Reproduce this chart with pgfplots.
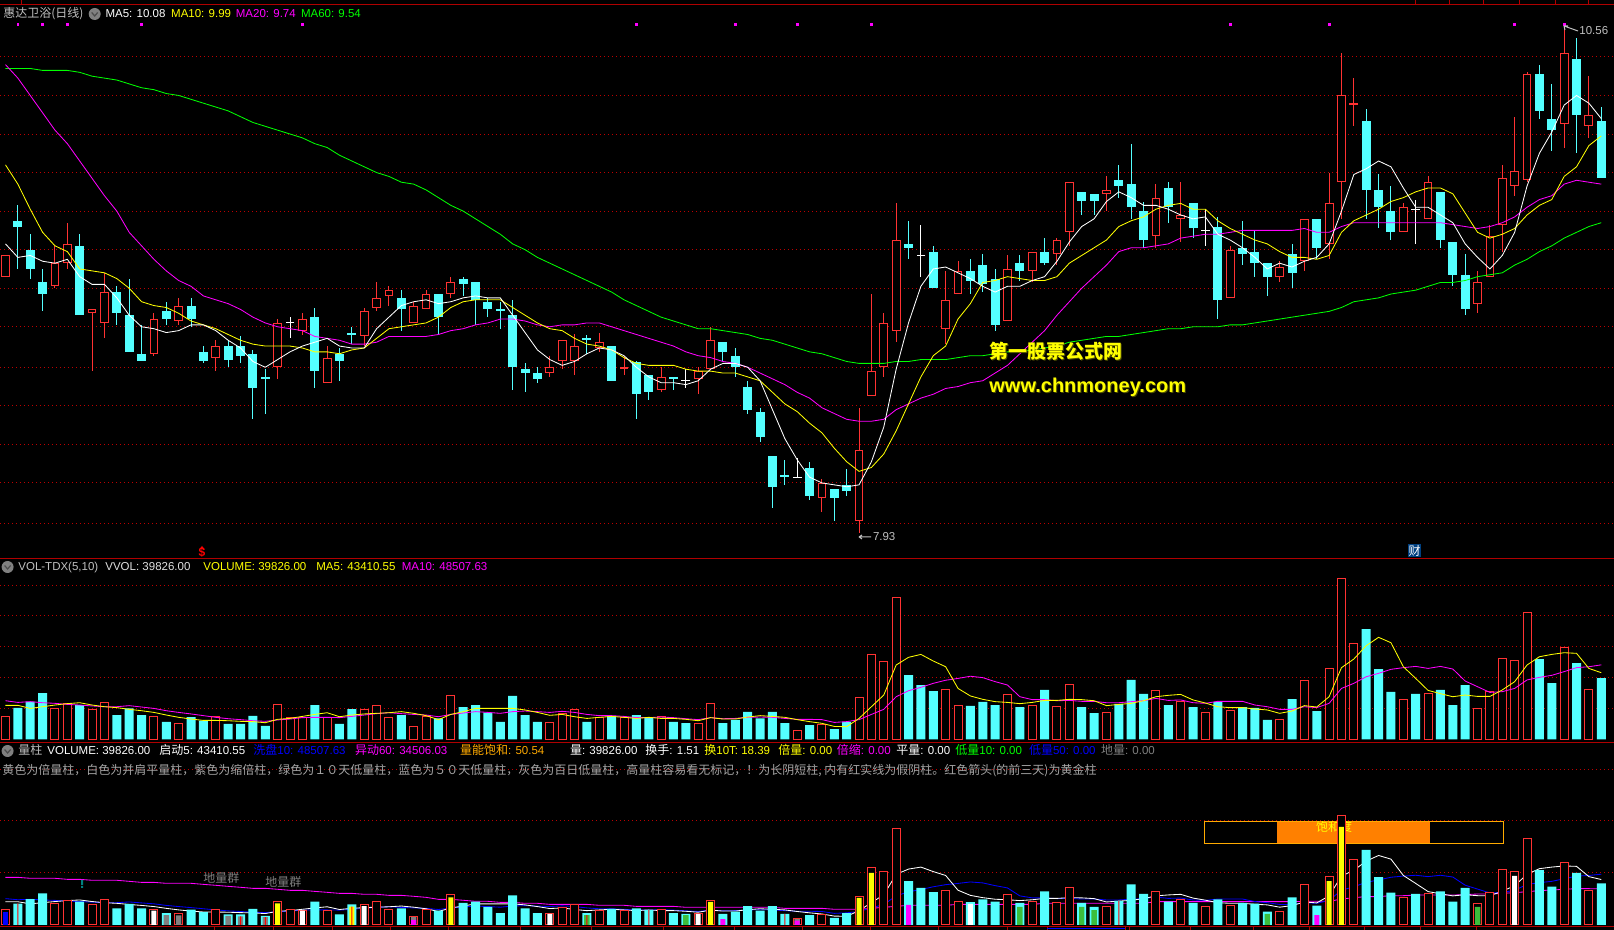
\documentclass[border=0pt]{standalone}
\usepackage{fontspec}
\usepackage{pgfplots}
\usepackage{pgfplotstable}
\pgfplotsset{compat=1.18}
\setmainfont{Liberation Sans}
\newfontfamily\cjk{Noto Sans CJK SC}
\definecolor{magenta}{RGB}{255,0,255}
\definecolor{yellow}{RGB}{255,255,0}
\definecolor{green}{RGB}{0,255,0}
\definecolor{blue}{RGB}{0,0,255}
\definecolor{red}{RGB}{255,0,0}
\definecolor{sepred}{RGB}{176,0,0}
\definecolor{gridred}{RGB}{190,0,0}
\definecolor{upred}{RGB}{255,50,50}
\definecolor{dncyan}{RGB}{84,255,255}
\definecolor{txtgray}{RGB}{192,192,192}
\definecolor{inngreen}{RGB}{60,190,60}
\definecolor{inngray}{RGB}{128,128,128}
\definecolor{barorange}{RGB}{255,128,0}
\definecolor{lineorange}{RGB}{255,170,0}
\definecolor{marknavy}{RGB}{0,64,128}
\definecolor{markteal}{RGB}{0,128,128}
\newcommand\cj[1]{{\fontsize{6}{7}\selectfont\cjk #1}}

% price candles: i open high low close
\pgfplotstableread{
i o h l c
0 9.26 9.37 9.26 9.37
4 9.21 9.42 9.20 9.33
5 9.33 9.54 9.30 9.43
7 9.07 9.09 8.77 9.09
8 9.02 9.28 8.94 9.18
12 8.86 9.07 8.85 9.04
14 9.03 9.15 9.01 9.11
17 8.84 8.93 8.77 8.90
22 8.79 9.04 8.73 9.02
24 8.98 9.07 8.96 9.04
26 8.71 8.90 8.71 8.84
29 8.95 9.10 8.90 9.08
30 9.10 9.23 9.08 9.15
31 9.16 9.21 9.11 9.19
33 9.02 9.13 9.02 9.11
34 9.09 9.19 9.09 9.17
36 9.17 9.26 9.15 9.23
44 8.76 8.85 8.74 8.79
45 8.82 8.93 8.78 8.93
46 8.82 8.96 8.75 8.90
48 8.89 8.97 8.87 8.92
50 8.78 8.85 8.75 8.79
53 8.67 8.79 8.66 8.74
56 8.73 8.79 8.65 8.77
57 8.78 9.00 8.78 8.93
66 8.11 8.21 8.04 8.19
69 7.99 8.58 7.93 8.36
70 8.64 9.17 8.64 8.77
71 8.79 9.07 8.74 9.02
72 8.98 9.64 8.92 9.45
76 8.99 9.29 8.91 9.14
77 9.17 9.34 9.17 9.29
81 9.03 9.37 9.03 9.30
83 9.29 9.39 9.23 9.39
85 9.38 9.46 9.32 9.45
86 9.49 9.75 9.42 9.75
89 9.69 9.78 9.60 9.71
93 9.47 9.74 9.41 9.67
95 9.56 9.75 9.44 9.58
99 9.15 9.42 9.15 9.40
103 9.26 9.34 9.23 9.31
105 9.34 9.56 9.29 9.56
107 9.43 9.80 9.35 9.64
108 9.75 10.42 9.56 10.20
109 10.15 10.29 10.04 10.16
113 9.49 9.64 9.49 9.62
115 9.56 9.78 9.56 9.75
119 9.12 9.29 9.07 9.23
120 9.26 9.53 9.26 9.47
121 9.53 9.84 9.39 9.77
122 9.73 10.09 9.68 9.81
123 9.76 10.32 9.75 10.31
126 10.05 10.56 9.93 10.42
128 10.04 10.30 9.98 10.10
}\upcandles
\pgfplotstableread{
i o h l c
1 9.55 9.63 9.30 9.52
2 9.40 9.48 9.25 9.30
3 9.23 9.30 9.08 9.17
6 9.42 9.48 9.06 9.06
9 9.18 9.21 9.01 9.07
10 9.06 9.25 8.87 8.87
11 8.86 9.01 8.82 8.82
13 9.08 9.13 9.01 9.04
15 9.11 9.15 9.00 9.04
16 8.87 8.90 8.81 8.82
18 8.90 8.93 8.79 8.83
19 8.90 8.95 8.81 8.85
20 8.86 8.88 8.52 8.68
21 8.74 8.78 8.55 8.73
25 9.05 9.10 8.68 8.77
27 8.86 8.89 8.72 8.82
28 8.97 9.00 8.91 8.96
32 9.15 9.19 8.98 9.09
35 9.17 9.17 8.96 9.05
37 9.25 9.26 9.16 9.22
38 9.23 9.23 9.01 9.14
39 9.13 9.15 9.05 9.09
40 9.09 9.13 8.99 9.08
41 9.06 9.14 8.67 8.79
42 8.78 8.81 8.66 8.76
43 8.76 8.79 8.71 8.73
47 8.94 8.96 8.86 8.93
49 8.90 8.90 8.72 8.72
51 8.82 8.82 8.52 8.65
52 8.75 8.75 8.62 8.66
54 8.74 8.74 8.67 8.73
58 8.92 8.92 8.82 8.87
59 8.85 8.89 8.74 8.79
60 8.69 8.72 8.55 8.57
61 8.56 8.58 8.40 8.43
62 8.33 8.33 8.06 8.17
63 8.23 8.31 8.18 8.22
65 8.27 8.30 8.10 8.12
67 8.16 8.16 7.99 8.11
68 8.18 8.26 8.12 8.15
73 9.43 9.55 9.35 9.41
75 9.39 9.42 9.20 9.20
78 9.29 9.35 9.17 9.24
79 9.32 9.38 9.18 9.22
80 9.25 9.30 8.98 9.01
82 9.33 9.37 9.24 9.29
84 9.39 9.46 9.32 9.33
87 9.70 9.70 9.58 9.65
88 9.69 9.69 9.58 9.65
90 9.76 9.84 9.67 9.73
91 9.74 9.95 9.56 9.62
92 9.60 9.65 9.41 9.45
94 9.72 9.75 9.54 9.62
96 9.64 9.64 9.46 9.51
98 9.52 9.57 9.04 9.14
100 9.41 9.55 9.32 9.38
101 9.39 9.50 9.26 9.33
102 9.33 9.33 9.16 9.26
104 9.38 9.43 9.20 9.28
106 9.56 9.56 9.35 9.41
110 10.07 10.13 9.56 9.71
111 9.71 9.79 9.51 9.62
112 9.60 9.73 9.45 9.49
116 9.70 9.70 9.41 9.45
117 9.44 9.44 9.21 9.27
118 9.27 9.38 9.06 9.09
124 10.31 10.36 10.08 10.12
125 10.08 10.26 9.91 10.02
127 10.39 10.50 9.90 10.10
129 10.07 10.14 9.77 9.77
}\dncandles
\pgfplotstableread{
i o h l c
23 9.02 9.05 8.94 9.02
55 8.72 8.78 8.68 8.72
64 8.22 8.32 8.22 8.22
74 9.37 9.53 9.26 9.37
97 9.50 9.61 9.42 9.50
114 9.61 9.66 9.43 9.61
}\dojis
% price moving averages
\pgfplotstableread{
i ma5 ma10 ma20 ma60
0 9.43 9.84 10.36 10.34
1 9.36 9.74 10.29 10.34
2 9.37 9.61 10.20 10.34
3 9.34 9.49 10.11 10.33
4 9.33 9.42 10.02 10.33
5 9.35 9.39 9.95 10.33
6 9.26 9.30 9.86 10.32
7 9.22 9.29 9.77 10.30
8 9.22 9.28 9.68 10.29
9 9.15 9.25 9.60 10.28
10 9.06 9.20 9.49 10.26
11 9.00 9.13 9.42 10.24
12 8.99 9.11 9.35 10.23
13 8.97 9.10 9.29 10.21
14 8.98 9.07 9.24 10.20
15 9.01 9.03 9.21 10.18
16 9.01 9.01 9.16 10.16
17 8.98 8.99 9.14 10.14
18 8.93 8.96 9.12 10.12
19 8.89 8.93 9.09 10.09
20 8.82 8.91 9.05 10.06
21 8.79 8.90 9.02 10.04
22 8.83 8.90 9.00 10.02
23 8.87 8.90 8.99 10.00
24 8.90 8.89 8.98 9.98
25 8.92 8.87 8.95 9.95
26 8.94 8.87 8.94 9.93
27 8.90 8.86 8.93 9.89
28 8.89 8.88 8.91 9.86
29 8.89 8.89 8.91 9.83
30 8.99 8.94 8.92 9.80
31 9.05 8.99 8.95 9.78
32 9.11 9.00 8.95 9.75
33 9.13 9.01 8.95 9.74
34 9.14 9.02 8.95 9.71
35 9.12 9.05 8.96 9.67
36 9.13 9.10 8.98 9.63
37 9.15 9.13 8.99 9.60
38 9.16 9.14 9.01 9.56
39 9.15 9.14 9.02 9.52
40 9.15 9.14 9.04 9.48
41 9.06 9.10 9.04 9.43
42 8.97 9.06 9.03 9.40
43 8.88 9.02 9.01 9.36
44 8.83 8.99 9.00 9.33
45 8.80 8.98 9.01 9.30
46 8.82 8.94 9.01 9.27
47 8.86 8.91 9.02 9.24
48 8.89 8.90 9.02 9.21
49 8.88 8.88 9.00 9.18
50 8.85 8.84 8.98 9.14
51 8.79 8.81 8.96 9.11
52 8.74 8.80 8.94 9.08
53 8.71 8.80 8.92 9.05
54 8.71 8.80 8.90 9.03
55 8.70 8.78 8.87 9.01
56 8.72 8.77 8.85 8.99
57 8.78 8.77 8.84 8.99
58 8.81 8.76 8.82 8.98
59 8.81 8.76 8.81 8.97
60 8.79 8.74 8.79 8.96
61 8.72 8.72 8.76 8.94
62 8.57 8.66 8.73 8.93
63 8.42 8.60 8.70 8.91
64 8.31 8.56 8.66 8.89
65 8.22 8.50 8.63 8.87
66 8.19 8.45 8.58 8.86
67 8.18 8.37 8.55 8.84
68 8.17 8.30 8.52 8.82
69 8.18 8.25 8.51 8.81
70 8.30 8.27 8.51 8.81
71 8.48 8.34 8.52 8.81
72 8.78 8.46 8.57 8.82
73 9.02 8.60 8.60 8.82
74 9.21 8.74 8.63 8.83
75 9.30 8.85 8.65 8.83
76 9.31 8.90 8.68 8.83
77 9.28 9.04 8.69 8.84
78 9.25 9.12 8.71 8.85
79 9.21 9.23 8.72 8.85
80 9.18 9.24 8.76 8.86
81 9.21 9.26 8.80 8.87
82 9.21 9.25 8.86 8.87
83 9.24 9.24 8.92 8.88
84 9.26 9.24 8.98 8.89
85 9.34 9.26 9.06 8.90
86 9.44 9.33 9.13 8.92
87 9.52 9.37 9.20 8.93
88 9.56 9.41 9.26 8.94
89 9.65 9.45 9.32 8.95
90 9.70 9.52 9.39 8.95
91 9.67 9.55 9.41 8.96
92 9.63 9.57 9.41 8.97
93 9.63 9.61 9.42 8.98
94 9.61 9.63 9.43 8.99
95 9.58 9.64 9.46 8.99
96 9.56 9.61 9.47 9.00
97 9.57 9.61 9.48 9.00
98 9.48 9.55 9.48 9.00
99 9.45 9.51 9.49 9.01
100 9.41 9.48 9.50 9.01
101 9.36 9.45 9.50 9.02
102 9.30 9.43 9.50 9.03
103 9.33 9.39 9.50 9.04
104 9.31 9.36 9.50 9.05
105 9.34 9.36 9.51 9.06
106 9.36 9.35 9.49 9.07
107 9.43 9.37 9.49 9.08
108 9.60 9.49 9.52 9.10
109 9.79 9.55 9.54 9.13
110 9.82 9.58 9.54 9.14
111 9.86 9.61 9.54 9.15
112 9.83 9.65 9.54 9.17
113 9.72 9.67 9.54 9.18
114 9.62 9.70 9.54 9.19
115 9.62 9.72 9.54 9.21
116 9.58 9.72 9.54 9.23
117 9.54 9.69 9.53 9.23
118 9.43 9.59 9.52 9.24
119 9.36 9.49 9.51 9.26
120 9.30 9.46 9.52 9.27
121 9.37 9.48 9.54 9.28
122 9.49 9.51 9.57 9.32
123 9.73 9.58 9.62 9.35
124 9.90 9.63 9.66 9.39
125 10.01 9.66 9.68 9.42
126 10.15 9.78 9.74 9.46
127 10.20 9.83 9.76 9.49
128 10.16 9.94 9.75 9.52
129 10.08 9.99 9.74 9.54
}\priceavg
% volume bars
\pgfplotstableread{
i v
0 15000
4 20200
5 23100
7 19800
8 24100
12 15000
14 10500
17 14800
22 22800
23 14400
24 14200
26 14000
29 19600
30 22200
31 14400
33 8500
34 15000
36 28700
44 11100
45 17000
46 19600
48 14000
50 14000
53 14800
56 10500
57 23500
64 5900
66 9800
69 27400
70 55300
71 50800
72 92400
76 32600
77 22200
81 29300
83 22200
85 21500
86 35800
89 17600
93 31900
95 24400
97 17600
99 18900
103 13100
105 38400
107 46200
108 104800
109 62500
113 26100
115 30000
119 20200
120 30900
121 52700
122 51400
123 82700
126 59900
128 32600
}\volup
\pgfplotstableread{
i v
1 20500
2 24600
3 30200
6 22400
9 15900
10 20200
11 15900
13 11400
15 14600
16 12200
18 10100
19 10100
20 15300
21 8800
25 22400
27 10100
28 19800
32 15900
35 13700
37 21100
38 22400
39 17400
40 11400
41 28300
42 15900
43 11400
47 11400
49 15300
51 15900
52 14200
54 11400
55 10700
58 10700
59 12700
60 17900
61 13700
62 17900
63 10700
65 9400
67 6800
68 11400
73 41900
74 35400
75 31500
78 21800
79 24400
80 22400
82 21100
84 32200
87 21100
88 17200
90 23100
91 38700
92 29600
94 22400
96 21100
98 24400
100 21100
101 20500
102 12700
104 26300
106 18500
110 71800
111 45800
112 30900
114 29600
116 32200
117 22400
118 35400
124 52300
125 36700
127 49700
129 39826
}\voldn
% volume moving averages
\pgfplotstableread{
i ma5 ma10 ma60
0 22200 25200 45500
1 22200 24100 45500
2 20200 24600 44600
3 21300 23900 44600
4 22400 23500 44600
5 23300 22800 43600
6 23900 22400 43600
7 22400 21800 42700
8 21300 21300 42700
9 20700 21300 42700
10 19600 22000 41700
11 18700 21100 40700
12 17600 20200 40700
13 15900 18700 39800
14 14400 17600 39800
15 13300 16600 39800
16 12400 15500 38800
17 12400 14400 37900
18 12200 13500 36900
19 11800 12900 36000
20 11600 12200 35000
21 10900 11800 35000
22 13100 12700 34100
23 13700 13300 33100
24 15000 14200 33100
25 16300 14400 32100
26 17400 14400 31200
27 14800 14200 30200
28 15900 15000 30200
29 16600 15900 29300
30 17000 16800 29300
31 17400 17400 28300
32 18100 16800 28300
33 17000 16300 27400
34 15500 15900 26400
35 12900 14800 24500
36 16300 16300 24500
37 18100 17200 23600
38 20200 18100 22600
39 20200 17600 22600
40 20200 17000 21600
41 20200 18100 21600
42 19200 18500 20700
43 17600 18100 20700
44 15700 17600 19700
45 16300 18300 19700
46 14800 17600 19700
47 13700 16300 19700
48 14400 15500 18800
49 15000 15500 18800
50 14400 15000 18800
51 13700 14200 17800
52 14400 14200 17800
53 13700 14600 17800
54 13700 14200 17800
55 13100 13500 16900
56 12200 12900 16900
57 14200 14200 16900
58 13300 13500 16900
59 13300 13700 16900
60 14600 14400 16900
61 15500 14600 16900
62 15000 14400 16900
63 14400 13700 15900
64 12900 13100 15900
65 11600 13100 15900
66 10500 12900 15900
67 8500 11100 15000
68 8300 11600 15000
69 13700 12900 15000
70 21300 16300 15900
71 28900 19600 16900
72 48400 27800 17800
73 53400 31700 18800
74 55300 33900 18800
75 51000 36500 18800
76 47300 38500 18800
77 33200 39700 19700
78 28300 41100 19700
79 26100 40200 19700
80 24600 37600 19700
81 24100 35400 19700
82 23300 27800 19700
83 24100 25900 19700
84 25400 25900 20700
85 25400 25200 20700
86 26100 25400 20700
87 25900 24800 20700
88 25200 24800 20700
89 22000 23900 20700
90 22800 23900 20700
91 23500 24600 20700
92 25200 25200 20700
93 27800 26700 22300
94 28700 25400 22300
95 29300 25700 22300
96 25700 23900 22300
97 23700 23500 22300
98 21300 24800 22300
99 20700 24800 22300
100 20700 24800 22300
101 19800 22400 22300
102 19200 21300 22300
103 17000 19600 22300
104 18500 19600 22300
105 22000 21300 22600
106 21100 20700 22600
107 27800 23500 22600
108 46700 33200 24800
109 52300 36500 26100
110 61000 40800 27100
111 66400 43000 27100
112 62900 45600 28000
113 47300 46700 28000
114 39700 47500 28600
115 31900 46200 28600
116 29800 47500 28600
117 27800 45800 28600
118 28900 38000 29000
119 28000 34300 29600
120 28000 30600 29600
121 32200 31100 30200
122 37600 33200 30900
123 48400 38700 31800
124 53800 40400 32800
125 55300 41700 33400
126 56400 44100 34100
127 56000 46700 34700
128 46200 47300 34700
129 43410 48507 34506
}\volavg

\pgfplotsset{
  panel/.style={scale only axis,width=807pt,xmin=-0.4446,xmax=130.03,anchor=south west,
    separate axis lines,scaled y ticks=false,
    x axis line style={draw=sepred,line width=0.5pt},y axis line style={draw=none},
    y tick style={draw=none},x tick style={draw=sepred,line width=0.5pt},
    tick align=outside,major tick length=2pt,
    xticklabels={},yticklabels={},ymajorgrids,
    grid style={gridred,line width=0.5pt,dash pattern=on 0.5pt off 1.5pt}},
  vbar/.style 2 args={no marks,draw=none,forget plot,error bars/.cd,y dir=both,y explicit,
    error mark=none,error bar style={draw=#1,solid,line width=#2}},
  avg/.style={no marks,sharp plot,line width=0.42pt,forget plot},
  volbar/.style={ybar,bar shift=0pt,forget plot},
  inner/.style 2 args={ybar,bar shift=0pt,bar width=#2,fill=#1,draw=none,forget plot},
}

\begin{document}
\begin{tikzpicture}
\path[fill=black,use as bounding box] (0,0) rectangle (807pt,465pt);

% main price panel
\begin{axis}[panel,at={(0,185.75pt)},height=277pt,ymin=7.798,ymax=10.672,
  ytick={10.40,10.20,10.00,9.80,9.60,9.40,9.20,9.00,8.79,8.59,8.39,8.19,7.98},
  xtick={1.33,113.95,116.7,119.5,122.4,125.3,128},xtick pos=upper]
\addplot[vbar={upred}{0.5pt}] table[x=i,y expr=(\thisrow{h}+\thisrow{l})/2,y error expr=(\thisrow{h}-\thisrow{l})/2]{\upcandles};
\addplot[vbar={upred}{4.4pt}] table[x=i,y expr=(\thisrow{o}+\thisrow{c})/2,y error expr=(\thisrow{c}-\thisrow{o})/2]{\upcandles};
\addplot[vbar={black}{3.4pt}] table[x=i,y expr=(\thisrow{o}+\thisrow{c})/2,y error expr={max((\thisrow{c}-\thisrow{o})/2-0.0052,0)}]{\upcandles};
\addplot[vbar={dncyan}{0.5pt}] table[x=i,y expr=(\thisrow{h}+\thisrow{l})/2,y error expr=(\thisrow{h}-\thisrow{l})/2]{\dncandles};
\addplot[vbar={dncyan}{4.5pt}] table[x=i,y expr=(\thisrow{o}+\thisrow{c})/2,y error expr=(\thisrow{o}-\thisrow{c})/2]{\dncandles};
\addplot[vbar={white}{0.5pt}] table[x=i,y expr=(\thisrow{h}+\thisrow{l})/2,y error expr=(\thisrow{h}-\thisrow{l})/2]{\dojis};
\addplot[only marks,mark=-,mark size=2.2pt,mark options={white,line width=0.5pt},forget plot] table[x=i,y=c]{\dojis};
\addplot[avg,green] table[x=i,y=ma60]{\priceavg};
\addplot[avg,magenta] table[x=i,y=ma20]{\priceavg};
\addplot[avg,yellow] table[x=i,y=ma10]{\priceavg};
\addplot[avg,white] table[x=i,y=ma5]{\priceavg};
\addplot[only marks,mark=square*,mark size=0.45pt,mark options={magenta,draw=none},forget plot] coordinates
  {(1,10.57)(3,10.57)(5,10.57)(11,10.57)(24,10.57)(51,10.57)(59,10.57)(64,10.57)(70,10.57)(99,10.57)(107,10.57)(122,10.57)(126,10.57)};
\end{axis}

% volume panel
\begin{axis}[panel,at={(0,93.85pt)},height=91.9pt,ymin=-1820,ymax=117650,
  ytick={20280,40430,60580,80730,100230},xtick=\empty]
\addplot[volbar,bar width=4.5pt,fill=dncyan,draw=none] table[x=i,y=v]{\voldn};
\addplot[volbar,bar width=4pt,fill=black,draw=upred,line width=0.5pt] table[x=i,y=v]{\volup};
\addplot[avg,magenta] table[x=i,y=ma10]{\volavg};
\addplot[avg,yellow] table[x=i,y=ma5]{\volavg};
\end{axis}

% saturation bar sits behind the last panel's columns
\begin{scope}[x=0.5pt,y=-0.5pt,yshift=465pt]
\fill[barorange] (1277,821.5) rectangle (1430,843.5);
\draw[lineorange,line width=0.5pt] (1204,821.5) rectangle (1503,843.5);
\node[anchor=center,inner sep=0pt,text=yellow] at (1334,827) {\cj{饱和度}};
\end{scope}

% third panel: the volume columns again, with marker columns inside
\begin{axis}[panel,at={(0,1.5pt)},height=92.35pt,ymin=-1910,ymax=174500,
  ytick={50300,99600,148700},xtick pos=lower,
  xtick={16.86,21.7,26.4,31.1,35.85,41.6,47.4,53.2,58.9,64.4,69.9,75.4,81,84.2,90.5,90.9,95.8,100.9,105.4,109.9,114.4,118.9},major tick length=1.5pt]
\addplot[avg,magenta] table[x=i,y=ma60]{\volavg};
\addplot[avg,blue] table[x=i,y=ma10]{\volavg};
\addplot[avg,white] table[x=i,y=ma5]{\volavg};
\addplot[volbar,bar width=4.5pt,fill=dncyan,draw=none] table[x=i,y=v]{\voldn};
\addplot[volbar,bar width=4pt,fill=black,draw=upred,line width=0.5pt] table[x=i,y=v]{\volup};
\addplot[inner={blue}{2.5pt}] coordinates {(0,12100)};
\addplot[inner={white}{2.5pt}] coordinates {(12,13700)(24,13700)(29,18100)(44,10500)(56,10500)(78,20100)(122,46800)};
\addplot[inner={inngray}{2.7pt}] coordinates {(13,9500)(14,9200)(18,8600)(19,8300)(21,7600)(33,7600)(64,5700)};
\addplot[inner={yellow}{2.5pt}] coordinates {(22,20700)(28,17500)(36,26400)(57,22000)(69,25800)(70,49700)(107,42000)(108,93600)};
\addplot[inner={magenta}{2.5pt}] coordinates {(33,4800)(58,5700)(64,4100)(73,19100)(106,9500)};
\addplot[inner={inngreen}{2.7pt}] coordinates {(47,9500)(55,9500)(82,17200)(87,17200)(88,14300)(102,10500)(119,17200)};
\addplot[inner={red}{0.5pt}] coordinates {(1,20700)(19,8300)(21,7600)(28,17500)(47,9500)(52,14200)(63,10700)(90,23100)};
\end{axis}

% header texts, in reference pixels
\begin{scope}[x=0.5pt,y=-0.5pt,yshift=465pt,
  lab/.style={anchor=base west,inner sep=0pt,font=\fontsize{5.75}{7}\selectfont}]
\newcommand\chev[2]{\fill[inngray] (#1,#2) circle (6);
  \draw[black!70,line width=0.6pt] (#1-3,#2-1.5) -- (#1,#2+2) -- (#1+3,#2-1.5);}
\chev{94.7}{14}\chev{7.6}{567}\chev{7.6}{751}
\node[lab,text=txtgray] at (3,18) {\cj{惠达卫浴(日线)}};
\node[lab,text=white] at (105.2,18) {MA5: 10.08};
\node[lab,text=yellow] at (170.8,18) {MA10: 9.99};
\node[lab,text=magenta] at (235.5,18) {MA20: 9.74};
\node[lab,text=green] at (300.6,18) {MA60: 9.54};
\node[lab,text=txtgray] at (18,571) {VOL-TDX(5,10)};
\node[lab,text=txtgray!50!white] at (105,571) {VVOL: 39826.00};
\node[lab,text=yellow] at (203,571) {VOLUME: 39826.00};
\node[lab,text=yellow] at (316,571) {MA5: 43410.55};
\node[lab,text=magenta] at (401.5,571) {MA10: 48507.63};
\node[lab,text=txtgray] at (18,755) {\cj{量柱}};
\node[lab,text=white] at (47,755) {VOLUME: 39826.00};
\node[lab,text=white] at (159,755) {\cj{启动}5: 43410.55};
\node[lab,text=blue] at (253,755) {\cj{洗盘}10: 48507.63};
\node[lab,text=magenta] at (354.7,755) {\cj{异动}60: 34506.03};
\node[lab,text=lineorange] at (459.7,755) {\cj{量能饱和}: 50.54};
\node[lab,text=white] at (569.6,755) {\cj{量}: 39826.00};
\node[lab,text=white] at (645,755) {\cj{换手}: 1.51};
\node[lab,text=yellow] at (704,755) {\cj{换}10T: 18.39};
\node[lab,text=yellow] at (778,755) {\cj{倍量}: 0.00};
\node[lab,text=magenta] at (836.5,755) {\cj{倍缩}: 0.00};
\node[lab,text=white] at (896,755) {\cj{平量}: 0.00};
\node[lab,text=green] at (955,755) {\cj{低量}10: 0.00};
\node[lab,text=blue] at (1028.6,755) {\cj{低量}50: 0.00};
\node[lab,text=inngray] at (1100.6,755) {\cj{地量}: 0.00};
\node[lab,text=inngray!70!white] at (2,775) {\cj{黄色为倍量柱，白色为并肩平量柱，紫色为缩倍柱，绿色为１０天低量柱，蓝色为５０天低量柱，灰色为百日低量柱，高量柱容易看无标记，！为长阴短柱, 内有红实线为假阴柱。红色箭头(的前三天)为黄金柱}};
\node[lab,text=inngray] at (203,883) {\cj{地量群}};
\node[lab,text=inngray] at (265,887) {\cj{地量群}};
\fill[markteal] (81,880) rectangle (83,885) (81,886) rectangle (83,888);
% low and high price flags
\draw[txtgray,line width=0.5pt] (859,537) -- (871,537) (859,537) -- (862,535) (859,537) -- (862,539);
\node[lab,text=txtgray] at (872.6,541) {7.93};
\draw[txtgray,line width=0.5pt] (1564,26) -- (1578,31) (1564,26) -- (1568,26) (1564,26) -- (1565,30);
\node[lab,text=txtgray] at (1579,35) {10.56};
\node[anchor=center,inner sep=0pt,text=red,font=\fontsize{6}{7}\selectfont\bfseries] at (202,553) {\$};
\fill[red] (199.5,549) -- (202,546) -- (204.5,549) -- cycle;
\fill[marknavy] (1408,544) rectangle (1421,557);
\node[anchor=center,inner sep=0pt,text=white] at (1414.5,550.5) {\cj{财}};
\draw[blue,line width=0.5pt] (1047,929) -- (1125,929);
% watermark
\node[anchor=base west,inner sep=0pt,text=yellow!30!black,font=\fontsize{9.5}{11}\selectfont\cjk\bfseries] at (990,360) {第一股票公式网};
\node[anchor=base west,inner sep=0pt,text=yellow,font=\fontsize{9.5}{11}\selectfont\cjk\bfseries] at (989,359) {第一股票公式网};
\node[anchor=base west,inner sep=0pt,text=yellow!30!black,font=\fontsize{10}{11}\selectfont\bfseries] at (990,394) {www.chnmoney.com};
\node[anchor=base west,inner sep=0pt,text=yellow,font=\fontsize{10}{11}\selectfont\bfseries] at (989,393) {www.chnmoney.com};
\end{scope}
\end{tikzpicture}
\end{document}
